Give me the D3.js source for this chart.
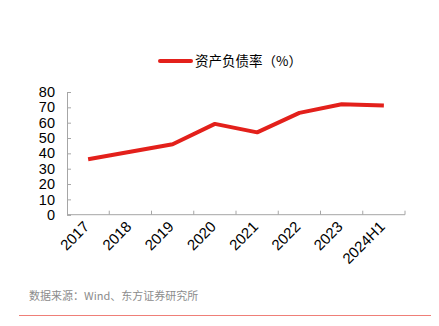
<!DOCTYPE html>
<html>
<head>
<meta charset="utf-8">
<script src="https://cdn.jsdelivr.net/npm/d3@7"></script>
<style>
  html, body { margin: 0; padding: 0; background: #fff; }
  svg { display: block; }
</style>
</head>
<body>
<svg id="chart" width="439" height="326"></svg>
<script>
// Asset-liability ratio by year
const categories = ["2017", "2018", "2019", "2020", "2021", "2022", "2023", "2024H1"];
const debtRatio = [36.1, 41.0, 45.9, 59.2, 53.7, 66.4, 72.0, 71.2];
const yTicks = [0, 10, 20, 30, 40, 50, 60, 70, 80];
const seriesName = "资产负债率（%）";
const sourceNote = "数据来源：Wind、东方证券研究所";

const svg = d3.select("#chart");
const font = "'Liberation Sans', Arial, sans-serif";
const cjkFont = "'Noto Sans CJK SC', 'Liberation Sans', sans-serif";
const lineColor = "#e3201b";
const axisColor = "#a6a6a6";

const x = d3.scaleBand().domain(categories).range([67, 405]);
const y = d3.scaleLinear().domain([0, 80]).range([214.7, 92]);

// Y axis with inward ticks
const yAxis = svg.append("g")
  .attr("transform", "translate(67,0)")
  .call(d3.axisLeft(y).tickValues(yTicks).tickSize(-4).tickPadding(12));
yAxis.select(".domain").attr("stroke", axisColor);
yAxis.selectAll(".tick line").attr("stroke", axisColor);
yAxis.selectAll(".tick text")
  .attr("font-family", font).attr("font-size", 14.5).attr("fill", "#000");

// X axis: ticks at band boundaries pointing up
const xAxis = svg.append("g").attr("transform", `translate(0,${y(0)})`);
xAxis.append("line")
  .attr("x1", x.range()[0]).attr("x2", x.range()[1])
  .attr("stroke", axisColor);
const bounds = categories.map(c => x(c)).concat([x.range()[1]]);
xAxis.selectAll("line.tk").data(bounds.slice(1)).join("line")
  .attr("class", "tk")
  .attr("x1", d => d).attr("x2", d => d)
  .attr("y1", 0).attr("y2", -4)
  .attr("stroke", axisColor);
xAxis.selectAll("text").data(categories).join("text")
  .attr("transform", d => `translate(${x(d) + x.bandwidth() / 2 + 2},13) rotate(-45)`)
  .attr("text-anchor", "end")
  .attr("font-family", font).attr("font-size", 15).attr("fill", "#000")
  .text(d => d);

// Series line
const line = d3.line()
  .x((d, i) => x(categories[i]) + x.bandwidth() / 2)
  .y(d => y(d));
svg.append("path")
  .datum(debtRatio)
  .attr("d", line)
  .attr("fill", "none")
  .attr("stroke", lineColor)
  .attr("stroke-width", 4)
  .attr("stroke-linejoin", "round");

// Legend
const legend = svg.append("g").attr("transform", "translate(160,61)");
legend.append("line")
  .attr("x1", 0).attr("x2", 31).attr("y1", 0).attr("y2", 0)
  .attr("stroke", lineColor).attr("stroke-width", 4).attr("stroke-linecap", "round");
legend.append("text")
  .attr("x", 35).attr("y", 5)
  .attr("font-family", cjkFont).attr("font-size", 13.5).attr("fill", "#000")
  .text(seriesName);

// Source note and divider
svg.append("text")
  .attr("x", 29).attr("y", 300)
  .attr("font-family", cjkFont).attr("font-size", 11).attr("fill", "#8c8c8c")
  .text(sourceNote);
svg.append("line")
  .attr("x1", 19).attr("x2", 431).attr("y1", 315.5).attr("y2", 315.5)
  .attr("stroke", "#ef7f78").attr("stroke-width", 1.2);
</script>
</body>
</html>
